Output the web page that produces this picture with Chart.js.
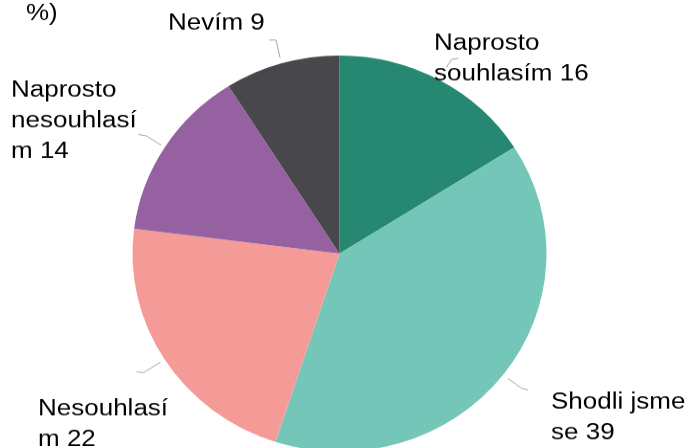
<!DOCTYPE html>
<html>
<head>
<meta charset="utf-8">
<script src="https://cdn.jsdelivr.net/npm/chart.js@4"></script>
<style>
  html, body { margin: 0; padding: 0; background: #ffffff; overflow: hidden; }
  body { width: 690px; height: 448px; }
  #wrap { position: relative; width: 690px; height: 500px; transform: scaleY(0.957); transform-origin: 0 0; }
</style>
</head>
<body>
<div id="wrap"><canvas id="c"></canvas></div>
<script>
// ---- data ----
const categories = ["Naprosto souhlasím", "Shodli jsme se", "Nesouhlasím", "Naprosto nesouhlasím", "Nevím"];
const values = [16, 39, 22, 14, 9];
const titleTail = "%)";

// ---- styles ----
const sliceColors = ["#268871", "#74C7B8", "#F49B98", "#9661A1", "#48474B"];
const S = 0.957;               // vertical squash of the whole picture
const FONT = '26px "Liberation Sans", Arial, sans-serif';
const TEXT_V = 0.92;           // extra vertical squash of glyphs
const LINE_H = 30.7;           // screen px between baselines

// label layout in screen pixels (x = text left, y = first baseline)
const labelLayout = [
  { x: 434, y: 50,    wrap: 160, gap: 15, elbow: [451.7, 59.3], end: [458.3, 58.3] },
  { x: 551, y: 408.3, wrap: 140, gap: 6,  elbow: [521.7, 388.3], end: [528.3, 390] },
  { x: 38,  y: 415,   wrap: 140, gap: 5,  elbow: [143.3, 372.7], end: [136.7, 371.7] },
  { x: 11,  y: 96.7,  wrap: 140, gap: 4,  elbow: [146.7, 136],   end: [138.3, 134.5] },
  { x: 168, y: 30,    wrap: 140, gap: 6,  elbow: [276, 40],      end: [269.3, 40] }
];

function wrapText(ctx, text, maxW) {
  const words = text.split(" ");
  const lines = [];
  let cur = "";
  for (const w of words) {
    const t = cur ? cur + " " + w : w;
    if (ctx.measureText(t).width <= maxW) { cur = t; continue; }
    if (cur) { lines.push(cur); cur = ""; }
    let rest = w;
    while (ctx.measureText(rest).width > maxW) {
      let k = rest.length;
      while (k > 1 && ctx.measureText(rest.slice(0, k)).width > maxW) k--;
      lines.push(rest.slice(0, k));
      rest = rest.slice(k);
    }
    cur = rest;
  }
  if (cur) lines.push(cur);
  return lines;
}

const labelPlugin = {
  id: "outLabels",
  afterDatasetsDraw(chart) {
    const ctx = chart.ctx;
    const meta = chart.getDatasetMeta(0);
    ctx.save();
    ctx.font = FONT;
    ctx.fillStyle = "#000000";
    ctx.textBaseline = "alphabetic";
    ctx.textAlign = "left";
    // cut-off title tail
    ctx.save();
    ctx.translate(26, 20 / S);
    ctx.scale(1, TEXT_V);
    ctx.fillText(titleTail, 0, 0);
    ctx.restore();

    meta.data.forEach((arc, i) => {
      const p = arc.getProps(["x", "y", "startAngle", "endAngle", "outerRadius"], true);
      const L = labelLayout[i];
      const mid = (p.startAngle + p.endAngle) / 2;
      const r = p.outerRadius + L.gap;
      const sx = p.x + Math.cos(mid) * r;
      const sy = p.y + Math.sin(mid) * r;
      ctx.beginPath();
      ctx.strokeStyle = "#a6a6a6";
      ctx.lineWidth = 1;
      ctx.moveTo(sx, sy);
      ctx.lineTo(L.elbow[0], L.elbow[1] / S);
      ctx.lineTo(L.end[0], L.end[1] / S);
      ctx.stroke();

      const text = categories[i] + " " + values[i];
      const lines = wrapText(ctx, text, L.wrap);
      lines.forEach((ln, j) => {
        ctx.save();
        ctx.translate(L.x, (L.y + j * LINE_H) / S);
        ctx.scale(1, TEXT_V);
        ctx.fillText(ln, 0, 0);
        ctx.restore();
      });
    });
    ctx.restore();
  }
};

const cy = 253.5 / S;
const R = 207;
new Chart(document.getElementById("c"), {
  type: "pie",
  data: {
    labels: categories,
    datasets: [{
      data: values,
      backgroundColor: sliceColors,
      borderWidth: 0,
      hoverOffset: 0
    }]
  },
  options: {
    responsive: true,
    maintainAspectRatio: false,
    animation: false,
    events: [],
    layout: { padding: { left: 339.5 - R, right: 690 - 339.5 - R, top: cy - R, bottom: 500 - cy - R } },
    plugins: { legend: { display: false }, tooltip: { enabled: false }, title: { display: false } }
  },
  plugins: [labelPlugin]
});
</script>
</body>
</html>
